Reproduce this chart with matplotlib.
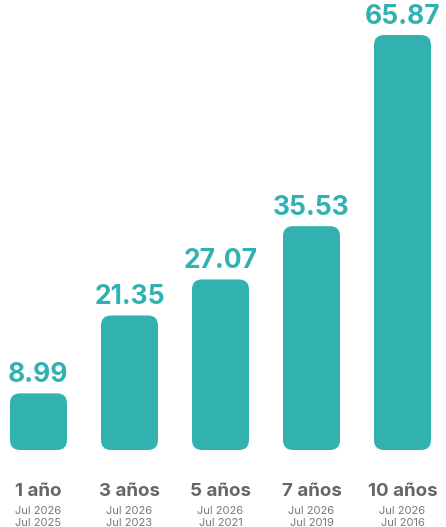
import matplotlib.pyplot as plt
from matplotlib.patches import FancyBboxPatch

# data
periods = ["1 año", "3 años", "5 años", "7 años", "10 años"]
values = [8.99, 21.35, 27.07, 35.53, 65.87]
date_to = ["Jul 2026", "Jul 2026", "Jul 2026", "Jul 2026", "Jul 2026"]
date_from = ["Jul 2025", "Jul 2023", "Jul 2021", "Jul 2019", "Jul 2016"]

teal = "#32b1b1"
plt.rcParams['font.family'] = ['Inter', 'DejaVu Sans']

W, H = 446, 527
fig = plt.figure(figsize=(W / 100, H / 100), dpi=100)
ax = fig.add_axes([0, 0, 1, 1])
ax.axis("off")

px_x = 91.0   # pixels per bar slot
px_y = 6.3    # pixels per value unit
base_px = 77  # baseline distance from bottom
ax.set_xlim(-38.5 / px_x, (W - 38.5) / px_x)
ax.set_ylim(-base_px / px_y, (H - base_px) / px_y)

bw = 57 / px_x
r = 10 / px_x
for i, v in enumerate(values):
    box = FancyBboxPatch((i - bw / 2, 0), bw, v,
                         boxstyle=f"round,pad=0,rounding_size={r}",
                         mutation_aspect=px_x / px_y,
                         fc=teal, ec="none")
    ax.add_patch(box)
    ax.annotate(f"{v:.2f}", (i, v), xytext=(0, 8), textcoords="offset points",
                ha="center", va="baseline", fontsize=19, fontweight="bold",
                color=teal)
    ax.text(i, -46 / px_y, periods[i], ha="center", va="baseline",
            fontsize=13.5, fontweight="bold", color="#666666")
    ax.text(i, -64 / px_y, date_to[i], ha="center", va="baseline",
            fontsize=8, color="#777777")
    ax.text(i, -76 / px_y, date_from[i], ha="center", va="baseline",
            fontsize=8, color="#777777")

fig.savefig("out.png", dpi=100)
